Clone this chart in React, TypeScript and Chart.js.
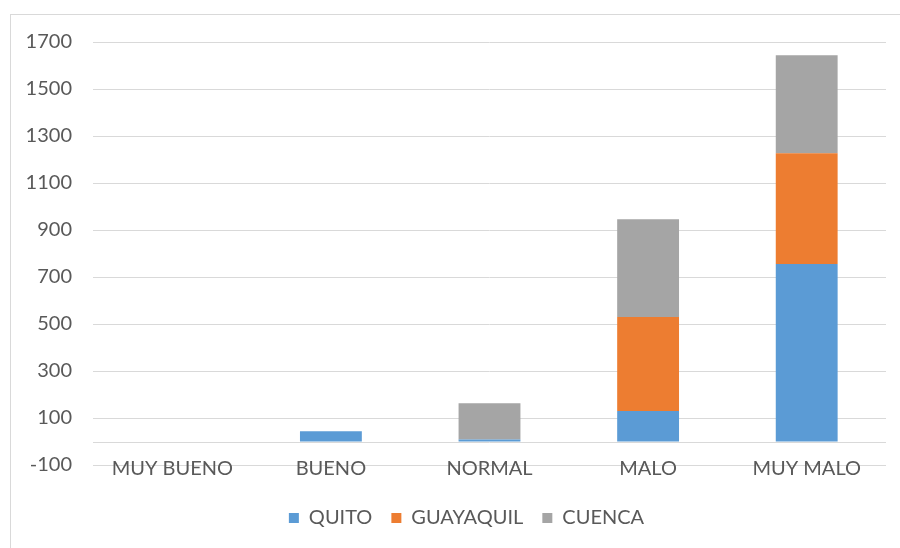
import React, { useEffect, useRef } from "react";
import { Chart, registerables } from "chart.js";

Chart.register(...registerables);

const categories = ["MUY BUENO", "BUENO", "NORMAL", "MALO", "MUY MALO"];
const seriesNames = ["QUITO", "GUAYAQUIL", "CUENCA"];
const quito = [0, 44, 8, 130, 755];
const guayaquil = [0, 0, 0, 400, 472];
const cuenca = [0, 0, 155, 416, 417];
const colors = ["#5B9BD5", "#ED7D31", "#A5A5A5"];
const yMin = -100;
const yMax = 1700;
const yStep = 200;

const FONT = "Lato, 'Open Sans', sans-serif";
const FONT_SIZE = 20;
const TEXT = "#595959";
const GRID = "#D9D9D9";

const zeroLine = {
  id: "zeroLine",
  beforeDatasetsDraw(chart: any) {
    const y = chart.scales.y.getPixelForValue(0);
    const { left, right } = chart.chartArea;
    const ctx = chart.ctx;
    ctx.save();
    ctx.strokeStyle = GRID;
    ctx.lineWidth = 1;
    ctx.beginPath();
    ctx.moveTo(left, Math.round(y) + 0.5);
    ctx.lineTo(right, Math.round(y) + 0.5);
    ctx.stroke();
    ctx.restore();
  },
};

// Excel-style category labels that sit on the bottom gridline
const categoryLabels = {
  id: "categoryLabels",
  afterDraw(chart: any) {
    const xs = chart.scales.x;
    const y = chart.scales.y.getPixelForValue(yMin) + 4;
    const ctx = chart.ctx;
    ctx.save();
    ctx.fillStyle = TEXT;
    ctx.font = `${FONT_SIZE}px ${FONT}`;
    ctx.textAlign = "center";
    ctx.textBaseline = "middle";
    categories.forEach((c, i) => {
      ctx.fillText(c, xs.getPixelForValue(i), y);
    });
    ctx.restore();
  },
};

export default function App() {
  const ref = useRef<HTMLCanvasElement>(null);
  useEffect(() => {
    const data = [quito, guayaquil, cuenca];
    const chart = new Chart(ref.current!, {
      type: "bar",
      data: {
        labels: categories,
        datasets: seriesNames.map((n, i) => ({
          label: n,
          data: data[i],
          backgroundColor: colors[i],
          borderWidth: 0,
          barPercentage: 0.39,
          categoryPercentage: 1,
        })),
      },
      options: {
        animation: false,
        responsive: false,
        maintainAspectRatio: false,
        layout: { padding: { top: 42, right: 0, left: 0, bottom: 10 } },
        scales: {
          x: {
            stacked: true,
            grid: { display: false, drawTicks: false },
            border: { display: false },
            ticks: { display: false },
            afterFit: (s: any) => {
              s.height = 24;
            },
          },
          y: {
            stacked: true,
            min: yMin,
            max: yMax,
            grid: { color: GRID, drawTicks: false },
            border: { display: false },
            ticks: {
              stepSize: yStep,
              color: TEXT,
              font: { family: FONT, size: FONT_SIZE },
              padding: 21,
              callback: (v: any) => String(v),
            },
            afterFit: (s: any) => {
              s.width = 93;
            },
          },
          yRightSpace: {
            type: "linear",
            position: "right",
            display: true,
            min: yMin,
            max: yMax,
            grid: { display: false, drawTicks: false },
            border: { display: false },
            ticks: { display: false },
            afterFit: (s: any) => {
              s.width = 47;
            },
          },
        },
        plugins: {
          legend: {
            position: "bottom",
            labels: {
              boxWidth: 10,
              boxHeight: 10,
              padding: 19,
              color: TEXT,
              font: { family: FONT, size: FONT_SIZE },
            },
          },
          tooltip: { enabled: false },
        },
      },
      plugins: [zeroLine, categoryLabels],
    });
    return () => chart.destroy();
  }, []);

  return (
    <div
      style={{
        position: "absolute",
        left: 0,
        top: 0,
        width: 900,
        height: 548,
        overflow: "hidden",
        background: "#fff",
      }}
    >
      <div
        style={{
          position: "absolute",
          left: 10,
          top: 14,
          width: 1000,
          height: 600,
          borderLeft: "1px solid #D9D9D9",
          borderTop: "1px solid #D9D9D9",
        }}
      />
      <canvas
        ref={ref}
        width={933}
        height={548}
        style={{ position: "absolute", left: 0, top: 0, width: 933, height: 548 }}
      />
    </div>
  );
}
